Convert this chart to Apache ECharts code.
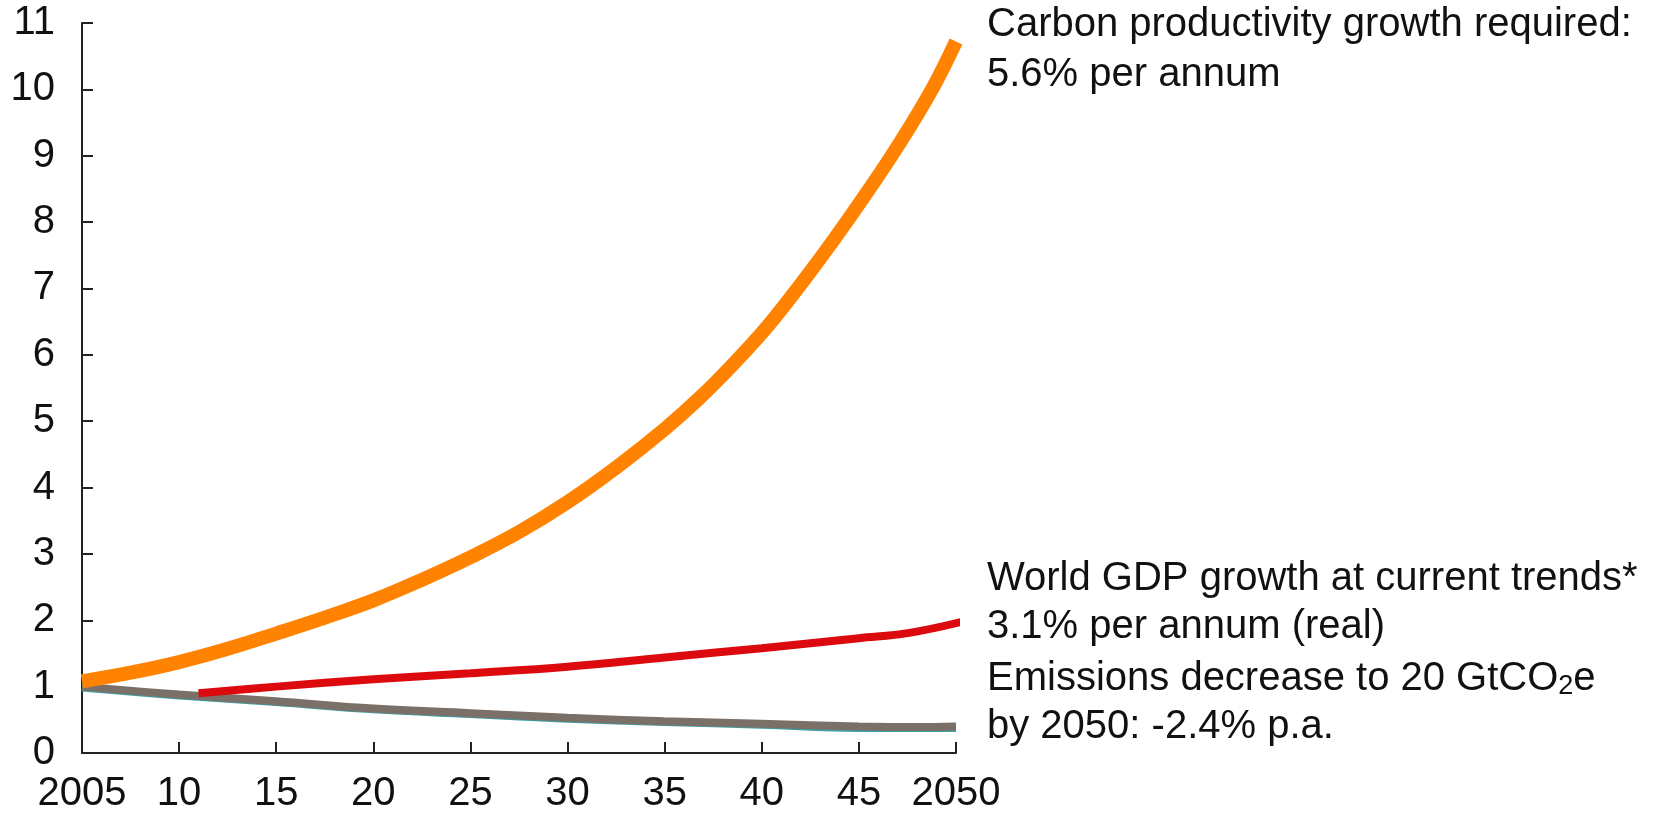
<!DOCTYPE html>
<html><head><meta charset="utf-8">
<script src="https://cdn.jsdelivr.net/npm/echarts@6/dist/echarts.min.js"></script>
<style>html,body{margin:0;padding:0;background:#fff}#c{width:1654px;height:818px}</style>
</head><body><div id="c"></div>
<script>
const xTickLabels = {2005:'2005',2010:'10',2015:'15',2020:'20',2025:'25',2030:'30',2035:'35',2040:'40',2045:'45',2050:'2050'};
const carbonYears = [2005, 2007.5, 2010, 2012.5, 2015, 2017.5, 2020, 2022.5, 2025, 2027.5, 2030, 2032.5, 2035, 2036.8, 2038.5, 2040.3, 2042, 2043.7, 2045.4, 2047.1, 2048.8, 2050];
const carbonValues = [1.08, 1.21, 1.37, 1.57, 1.8, 2.04, 2.3, 2.61, 2.95, 3.33, 3.78, 4.3, 4.88, 5.35, 5.85, 6.43, 7.06, 7.73, 8.44, 9.19, 10.02, 10.72];
const gdpYears = [2011, 2015, 2020, 2025, 2030, 2035, 2040, 2045, 2047.6, 2050.9];
const gdpValues = [0.9, 1.0, 1.11, 1.2, 1.3, 1.44, 1.58, 1.73, 1.81, 2.02];
const emissionsYears = [2005, 2010, 2015, 2020, 2025, 2030, 2035, 2040, 2045, 2048, 2050];
const emissionsValues = [1.0, 0.88, 0.78, 0.67, 0.6, 0.53, 0.48, 0.44, 0.4, 0.39, 0.4];
const emissionsShadow = [0.98, 0.86, 0.76, 0.65, 0.58, 0.51, 0.46, 0.42, 0.37, 0.37, 0.37];

const FONT = 'Liberation Sans, Arial, sans-serif';
const chart = echarts.init(document.getElementById('c'), null, {renderer:'canvas'});
const zip = (xs, ys) => xs.map((x,i)=>[x, ys[i]]);
const txt = (x, y, t) => ({type:'text', left:x, top:y, style:{text:t, font:'40px '+FONT, fill:'#111'}});
chart.setOption({
  backgroundColor:'#fff',
  animation:false,
  grid:{left:82, right:698, top:23, bottom:65},
  xAxis:{type:'value', min:2005, max:2050, interval:5,
    axisLine:{lineStyle:{color:'#222', width:2}},
    axisTick:{inside:true, length:11, lineStyle:{color:'#222', width:2}},
    splitLine:{show:false},
    axisLabel:{margin:21, fontSize:40, fontFamily:FONT, color:'#111',
      formatter:v=> xTickLabels[v]||''}},
  yAxis:{type:'value', min:0, max:11, interval:1,
    axisLine:{show:true, lineStyle:{color:'#222', width:2}},
    axisTick:{show:true, inside:true, length:11, lineStyle:{color:'#222', width:2}},
    splitLine:{show:false},
    axisLabel:{margin:27, fontSize:40, fontFamily:FONT, color:'#111'}},
  series:[
    {type:'line', data:zip(emissionsYears, emissionsShadow), smooth:0.4, symbol:'none', lineStyle:{color:'#3F9EA3', width:7}, z:2},
    {type:'line', data:zip(emissionsYears, emissionsValues), smooth:0.4, symbol:'none', lineStyle:{color:'#7B7068', width:8}, z:3},
    {type:'line', data:zip(gdpYears, gdpValues), smooth:0.4, symbol:'none', lineStyle:{color:'#DC0A0E', width:8}, z:4, clip:false},
    {type:'line', data:zip(carbonYears, carbonValues), smooth:0.4, symbol:'none', lineStyle:{color:'#FF8300', width:14}, z:5, clip:false}
  ],
  graphic:[
    txt(987, 5, 'Carbon productivity growth required:'),
    txt(987, 55, '5.6% per annum'),
    txt(987, 559, 'World GDP growth at current trends*'),
    txt(987, 607, '3.1% per annum (real)'),
    {type:'text', left:987, top:659, style:{text:'Emissions decrease to 20 GtCO{sub|2}e', font:'40px '+FONT, fill:'#111', rich:{sub:{fontSize:27, fontFamily:FONT, fill:'#111', verticalAlign:'bottom', padding:[16,0,0,0]}}}},
    txt(987, 707, 'by 2050: -2.4% p.a.')
  ]
});
</script></body></html>
